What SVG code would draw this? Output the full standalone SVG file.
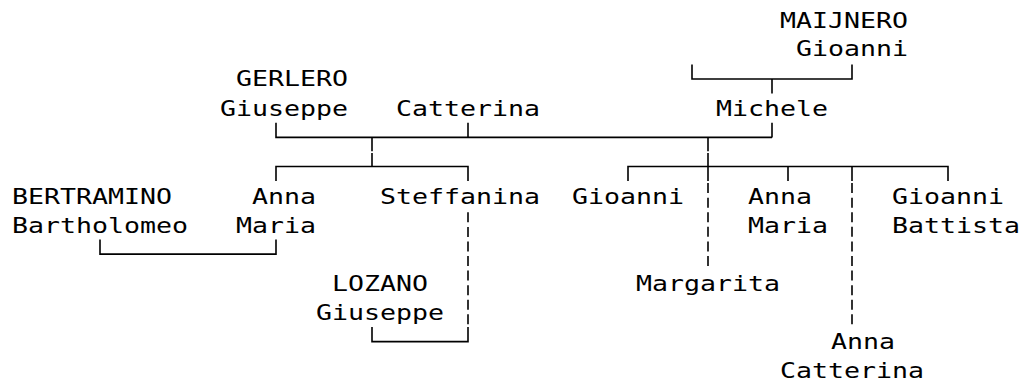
<svg xmlns="http://www.w3.org/2000/svg" width="1025" height="383" viewBox="0 0 1025 383">
<style>
  text { font-family: "DejaVu Sans Mono", "Liberation Mono", monospace; font-size: 21px; fill: #000; }
  .ln { stroke: #000; stroke-width: 1.6; fill: none; }
  .dash { stroke: #000; stroke-width: 1.6; fill: none; stroke-dasharray: 10 4.58; }
</style>
<rect width="1025" height="383" fill="#fff"/>
<g id="connectors">
  <!-- Maijnero couple bar (row 2) -->
  <path class="ln" d="M692,64.4 V79 H852 V64.4 M772,79 V93.6"/>
  <!-- Gerlero / Michele couple bar (row 4) -->
  <path class="ln" d="M772,122.8 V137.4 M276,122.8 V137.4 H772 M468,122.8 V137.4 M372,137.4 V151.2 M708,137.4 V151.2"/>
  <!-- Children bars (row 5) -->
  <path class="ln" d="M372,153 V166.5 M276,181.1 V166.5 H468 V181.1"/>
  <path class="ln" d="M708,153 V181.1 M628,181.1 V166.5 H948 V181.1 M788,166.5 V181.1 M852,166.5 V181.1"/>
  <!-- Dashed lines -->
  <path class="dash" d="M708,183.1 V266.1"/>
  <path class="dash" d="M852,183.1 V324.4"/>
  <path class="dash" d="M468,212.3 V324.4"/>
  <!-- Bertramino / Anna Maria bar (row 8) -->
  <path class="ln" d="M100,239.5 V254.1 H276 V239.5"/>
  <!-- Lozano / Steffanina bar (row 11) -->
  <path class="ln" d="M372,327 V341.6 H468 V327"/>
</g>
<g id="maijnero-gioanni">
  <text x="780" y="28" textLength="128" lengthAdjust="spacingAndGlyphs">MAIJNERO</text>
  <text x="796" y="56" textLength="112" lengthAdjust="spacingAndGlyphs">Gioanni</text>
</g>
<g id="gerlero-giuseppe">
  <text x="236" y="86.3" textLength="112" lengthAdjust="spacingAndGlyphs">GERLERO</text>
  <text x="220" y="115.5" textLength="128" lengthAdjust="spacingAndGlyphs">Giuseppe</text>
</g>
<g id="catterina">
  <text x="396" y="115.5" textLength="144" lengthAdjust="spacingAndGlyphs">Catterina</text>
</g>
<g id="michele">
  <text x="716" y="115.5" textLength="112" lengthAdjust="spacingAndGlyphs">Michele</text>
</g>
<g id="bertramino-bartholomeo">
  <text x="12" y="204" textLength="160" lengthAdjust="spacingAndGlyphs">BERTRAMINO</text>
  <text x="12" y="232.5" textLength="176" lengthAdjust="spacingAndGlyphs">Bartholomeo</text>
</g>
<g id="anna-maria-1">
  <text x="252" y="204" textLength="64" lengthAdjust="spacingAndGlyphs">Anna</text>
  <text x="236" y="232.5" textLength="80" lengthAdjust="spacingAndGlyphs">Maria</text>
</g>
<g id="steffanina">
  <text x="380" y="204" textLength="160" lengthAdjust="spacingAndGlyphs">Steffanina</text>
</g>
<g id="gioanni-child">
  <text x="572" y="204" textLength="112" lengthAdjust="spacingAndGlyphs">Gioanni</text>
</g>
<g id="anna-maria-2">
  <text x="748" y="204" textLength="64" lengthAdjust="spacingAndGlyphs">Anna</text>
  <text x="748" y="232.5" textLength="80" lengthAdjust="spacingAndGlyphs">Maria</text>
</g>
<g id="gioanni-battista">
  <text x="892" y="204" textLength="112" lengthAdjust="spacingAndGlyphs">Gioanni</text>
  <text x="892" y="232.5" textLength="128" lengthAdjust="spacingAndGlyphs">Battista</text>
</g>
<g id="margarita">
  <text x="636" y="290.5" textLength="144" lengthAdjust="spacingAndGlyphs">Margarita</text>
</g>
<g id="lozano-giuseppe">
  <text x="332" y="290.5" textLength="96" lengthAdjust="spacingAndGlyphs">LOZANO</text>
  <text x="316" y="319.7" textLength="128" lengthAdjust="spacingAndGlyphs">Giuseppe</text>
</g>
<g id="anna-catterina">
  <text x="831" y="349" textLength="64" lengthAdjust="spacingAndGlyphs">Anna</text>
  <text x="780" y="378" textLength="144" lengthAdjust="spacingAndGlyphs">Catterina</text>
</g>
</svg>
